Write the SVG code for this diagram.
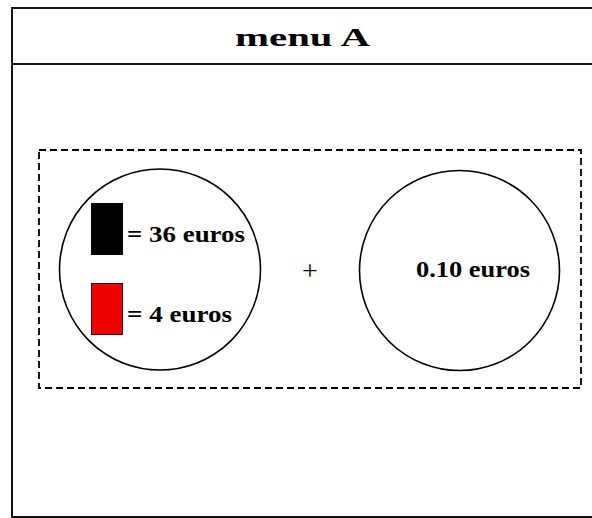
<svg xmlns="http://www.w3.org/2000/svg" width="592" height="518" viewBox="0 0 592 518">
<style>
.t{font-family:"Liberation Serif","Times New Roman",serif;font-weight:bold;fill:#000}
.c{fill:none;stroke:#000;stroke-width:1.6}
</style>
<rect x="0" y="0" width="592" height="518" fill="#fff"/>
<g id="frame">
<rect x="12" y="8" width="590" height="509" fill="none" stroke="#111" stroke-width="2"/>
<line x1="12" y1="64" x2="592" y2="64" stroke="#111" stroke-width="2"/>
<text class="t" x="235" y="46" font-size="26" textLength="135" lengthAdjust="spacingAndGlyphs">menu A</text>
</g>
<g id="group">
<rect x="39" y="150" width="542" height="238" fill="none" stroke="#000" stroke-width="1.8" stroke-dasharray="7,4"/>
</g>
<g id="left">
<circle class="c" cx="160" cy="269.5" r="100.5"/>
<rect x="91" y="203" width="32" height="52" fill="#000"/>
<rect x="91.5" y="283.5" width="31" height="51" fill="#ee0000" stroke="#400" stroke-width="1"/>
<text class="t" x="127" y="242" font-size="24" textLength="118" lengthAdjust="spacingAndGlyphs">= 36 euros</text>
<text class="t" x="127" y="322" font-size="24" textLength="105" lengthAdjust="spacingAndGlyphs">= 4 euros</text>
</g>
<g id="plus">
<text x="310" y="280" font-size="28" font-family="Liberation Serif,serif" fill="#000" text-anchor="middle">+</text>
</g>
<g id="right">
<circle class="c" cx="459.5" cy="270.5" r="100"/>
<text class="t" x="416" y="277" font-size="24" textLength="114" lengthAdjust="spacingAndGlyphs">0.10 euros</text>
</g>
</svg>
